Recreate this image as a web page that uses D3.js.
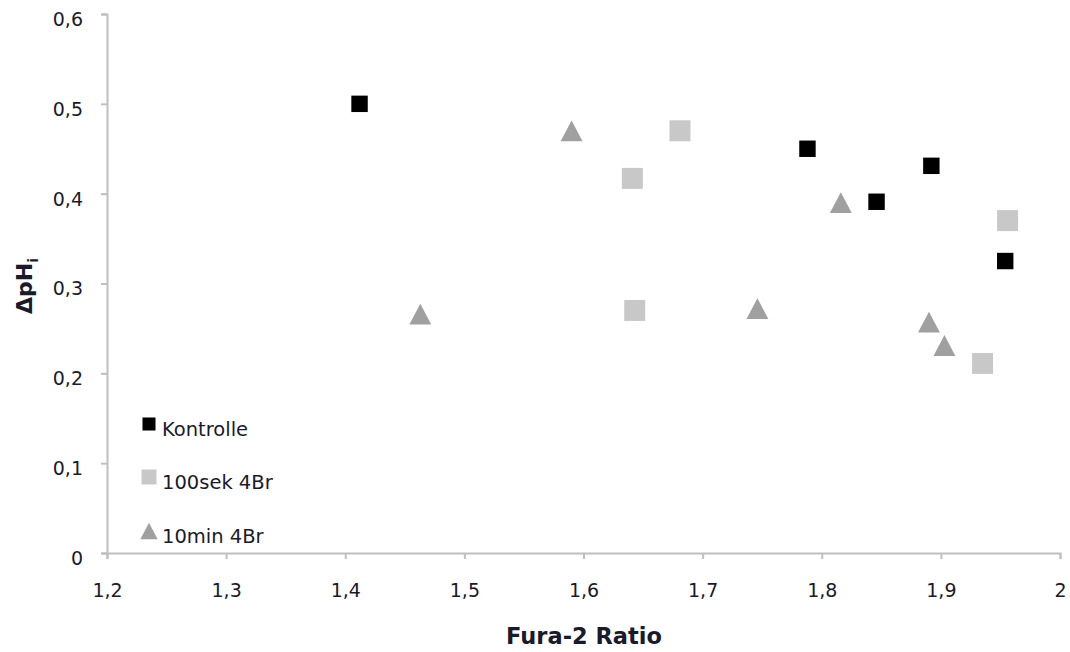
<!DOCTYPE html>
<html>
<head>
<meta charset="utf-8">
<script src="https://cdn.jsdelivr.net/npm/d3@7"></script>
<style>
  body { margin: 0; background: #fff; }
  svg { display: block; }
  text { font-family: "DejaVu Sans", sans-serif; fill: #1a1a2a; }
</style>
</head>
<body>
<svg id="chart" width="1070" height="652"></svg>
<script>
// ---- data ----
const kontrolleX = [1.412, 1.788, 1.846, 1.892, 1.954];
const kontrolleY = [0.500, 0.450, 0.391, 0.431, 0.325];
const sek100X = [1.681, 1.641, 1.643, 1.956, 1.935];
const sek100Y = [0.470, 0.417, 0.270, 0.370, 0.211];
const min10X = [1.590, 1.463, 1.816, 1.890, 1.903, 1.746];
const min10Y = [0.470, 0.266, 0.390, 0.257, 0.231, 0.272];
const xTicks = [1.2, 1.3, 1.4, 1.5, 1.6, 1.7, 1.8, 1.9, 2];
const yTicks = [0, 0.1, 0.2, 0.3, 0.4, 0.5, 0.6];
const seriesNames = ["Kontrolle", "100sek 4Br", "10min 4Br"];

const svg = d3.select("#chart");
const x = d3.scaleLinear().domain([1.2, 2]).range([107, 1060]);
const y = d3.scaleLinear().domain([0, 0.6]).range([553, 14]);
const fmt = d => String(+d.toFixed(1)).replace(".", ",");
const axisColor = "#bfbfbf";

// isoceles triangle (width == height), centred on its bounding box
const tri = {
  draw(ctx, size) {
    const w = Math.sqrt(2 * size), h = w * 0.95;
    ctx.moveTo(0, -h / 2);
    ctx.lineTo(w / 2, h / 2);
    ctx.lineTo(-w / 2, h / 2);
    ctx.closePath();
  }
};

// axes
const gx = svg.append("g").attr("transform", `translate(0,${y(0)})`)
  .call(d3.axisBottom(x).tickValues(xTicks).tickFormat(fmt).tickSize(6).tickPadding(25));
const gy = svg.append("g").attr("transform", `translate(${x(1.2)},0)`)
  .call(d3.axisLeft(y).tickValues(yTicks).tickFormat(fmt).tickSize(6).tickPadding(18));
[gx, gy].forEach(g => {
  g.select(".domain").attr("stroke", axisColor).attr("stroke-width", 2);
  g.selectAll(".tick line").attr("stroke", axisColor).attr("stroke-width", 2);
  g.selectAll(".tick text").attr("font-size", 19).attr("fill", "#1a1a2a")
    .attr("font-family", "'DejaVu Sans', sans-serif");
});
gy.selectAll(".tick text").attr("dy", "0.6em");

// series
const series = [
  { name: seriesNames[0], xs: kontrolleX, ys: kontrolleY, type: d3.symbolSquare, size: 270, color: "#000000" },
  { name: seriesNames[1], xs: sek100X, ys: sek100Y, type: d3.symbolSquare, size: 441, color: "#c8c8c8" },
  { name: seriesNames[2], xs: min10X, ys: min10Y, type: tri, size: 240, color: "#a0a0a0" }
];
[series[2], series[1], series[0]].forEach(s => {
  svg.append("g").selectAll("path")
    .data(s.xs.map((v, i) => [v, s.ys[i]]))
    .join("path")
    .attr("transform", d => `translate(${x(d[0])},${y(d[1])})`)
    .attr("d", d3.symbol().type(s.type).size(s.size))
    .attr("fill", s.color);
});

// legend
const legendY = [424, 477, 531];
const legendSizes = [170, 225, 150];
series.forEach((s, i) => {
  svg.append("path")
    .attr("transform", `translate(149,${legendY[i]})`)
    .attr("d", d3.symbol().type(s.type).size(legendSizes[i]))
    .attr("fill", s.color);
  svg.append("text").attr("x", 162).attr("y", legendY[i] + 12)
    .attr("font-size", 19.5).text(s.name);
});

// axis titles
svg.append("text").attr("x", 584).attr("y", 644).attr("text-anchor", "middle")
  .attr("font-size", 22.5).attr("font-weight", "bold").text("Fura-2 Ratio");
const yl = svg.append("text").attr("transform", "translate(32,286) rotate(-90)")
  .attr("text-anchor", "middle").attr("font-size", 22).attr("font-weight", "bold");
yl.append("tspan").text("ΔpH");
yl.append("tspan").attr("font-size", 14).attr("dy", 6).text("i");
</script>
</body>
</html>
